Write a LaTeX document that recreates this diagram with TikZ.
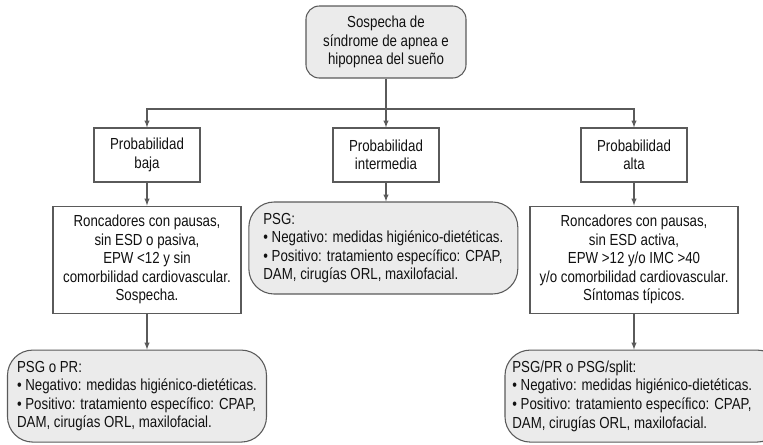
\documentclass[tikz,border=0pt]{standalone}
\usepackage{fontspec}
\setmainfont{Liberation Sans}[FakeStretch=0.83]
\usepackage{xcolor}
\usepackage{tikz}
\usetikzlibrary{positioning,arrows}
\definecolor{boxgray}{HTML}{EBEBEB}
\definecolor{linegray}{HTML}{5A5A5A}
\definecolor{textgray}{HTML}{111111}

\begin{document}
\begin{tikzpicture}[auto,every node/.style={on grid,font=\fontsize{12}{13.9}\selectfont,text=textgray},
    probbox/.style={draw=linegray,line width=0.8pt,fill=white,align=center,minimum width=79.5pt,minimum height=40.5pt},
    perfil/.style={draw=linegray,line width=0.8pt,fill=white,align=center,minimum height=80.25pt,inner sep=2pt},
    resultado/.style={draw=linegray,line width=0.8pt,fill=boxgray,rounded corners=19pt,align=left,minimum height=69pt,inner xsep=3pt},
    flecha/.style={draw=linegray,line width=0.8pt,->,>=latex}]
    \node[draw=linegray,line width=0.8pt,fill=boxgray,rounded corners=10pt,align=center,minimum width=120pt,minimum height=54pt] (sospecha)
      {Sospecha de\\síndrome de apnea e\\hipopnea del sueño};
    \useasboundingbox ([xshift=-289.5pt,yshift=31.5pt]sospecha.center) rectangle ([xshift=282.75pt,yshift=-301.5pt]sospecha.center);
    \node[probbox,below left=84.75pt and 179.25pt of sospecha] (baja) {Probabilidad\\baja};
    \node[probbox,below=84.75pt of sospecha] (intermedia) {Probabilidad\\intermedia};
    \node[probbox,below right=84.75pt and 186pt of sospecha] (alta) {Probabilidad\\alta};
    \node[perfil,minimum width=141pt,below=78.4pt of baja] (roncBaja)
      {Roncadores con pausas,\\sin ESD o pasiva,\\EPW <12 y sin\\comorbilidad cardiovascular.\\Sospecha.};
    \node[perfil,minimum width=156pt,below=78.4pt of alta] (roncAlta)
      {Roncadores con pausas,\\sin ESD activa,\\EPW >12 y/o IMC >40\\y/o comorbilidad cardiovascular.\\Síntomas típicos.};
    \node[resultado,minimum width=201.75pt,below=69.75pt of intermedia,xshift=-2pt] (psgMedia)
      {PSG:\\• Negativo: medidas higiénico-dietéticas.\\• Positivo: tratamiento específico: CPAP,\\DAM, cirugías ORL, maxilofacial.};
    \node[resultado,minimum width=194.25pt,below=102.4pt of roncBaja,xshift=-7.5pt] (psgBaja)
      {PSG o PR:\\• Negativo: medidas higiénico-dietéticas.\\• Positivo: tratamiento específico: CPAP,\\DAM, cirugías ORL, maxilofacial.};
    \node[resultado,align=flush left,inner xsep=5.5pt,text width=197pt,below=102.4pt of roncAlta,xshift=7.25pt] (psgAlta)
      {PSG/PR o PSG/split:\\• Negativo: medidas higiénico-dietéticas.\\• Positivo: tratamiento específico: CPAP,\\DAM, cirugías ORL, maxilofacial.};
    \coordinate[below=50.25pt of sospecha] (reparto);
    \draw[draw=linegray,line width=0.8pt] (sospecha) -- (reparto);
    \draw[flecha] (reparto) -| (baja);
    \draw[flecha] (reparto) -| (alta);
    \draw[flecha] (reparto) -- (intermedia);
    \draw[flecha] (baja) -- (roncBaja);
    \draw[flecha] (intermedia) -- (intermedia |- psgMedia.north);
    \draw[flecha] (alta) -- (roncAlta);
    \draw[flecha] (roncBaja) -- (roncBaja |- psgBaja.north);
    \draw[flecha] (roncAlta) -- (roncAlta |- psgAlta.north);
  \end{tikzpicture}
\end{document}
